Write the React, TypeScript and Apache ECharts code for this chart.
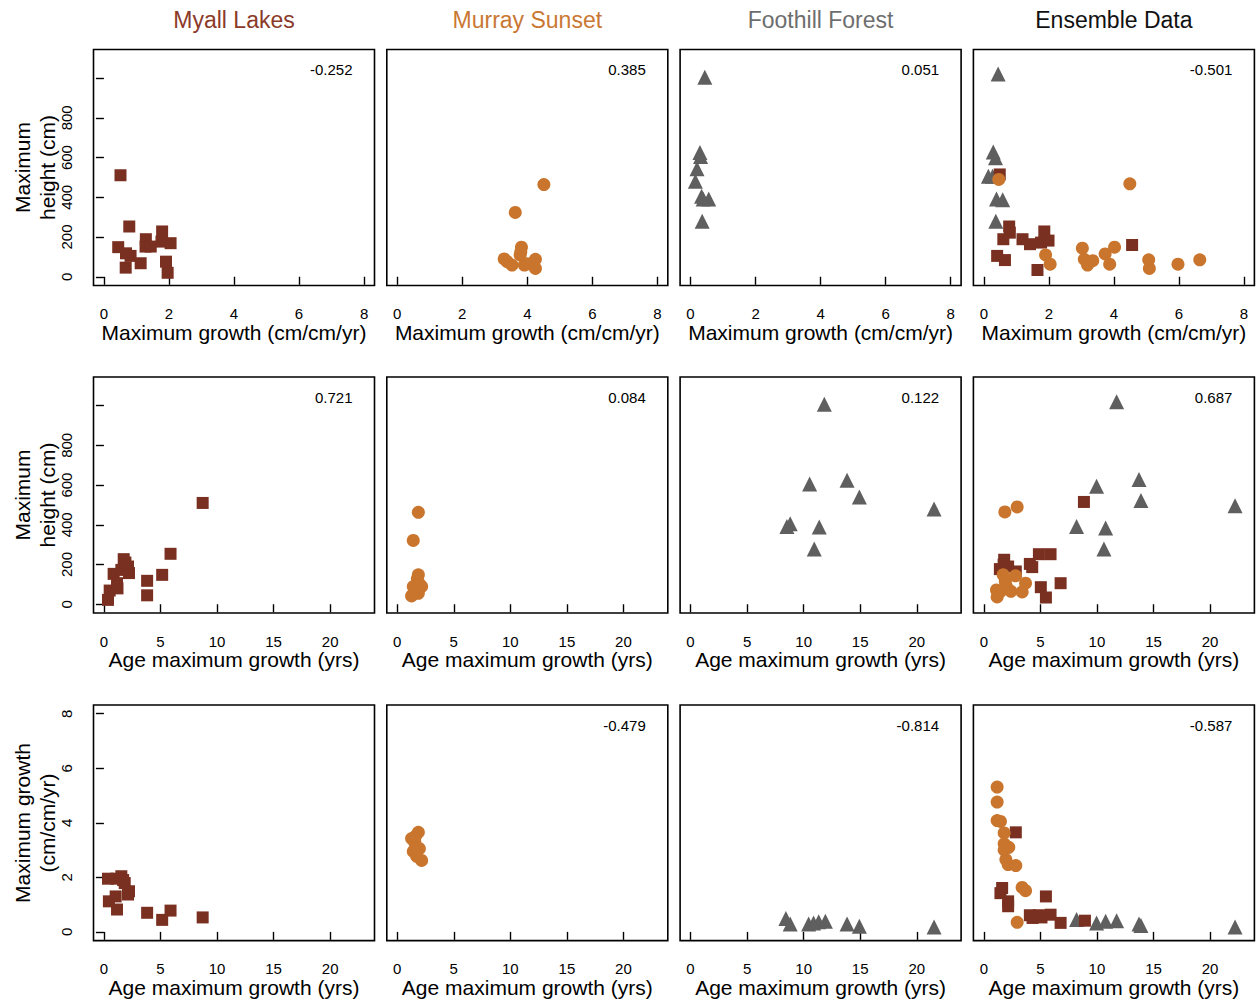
import React, { useEffect, useRef } from "react";
import * as echarts from "echarts";

// ---------- data ----------
const siteNames = ["Myall Lakes", "Murray Sunset", "Foothill Forest", "Ensemble Data"];

// Row 1: x = maximum growth (cm/cm/yr), y = maximum height (cm)
const myallGrowthHeight = [[0.51, 511], [0.78, 253], [0.44, 149], [0.68, 118], [0.82, 105], [0.67, 46], [1.13, 68], [1.29, 189], [1.28, 152], [1.44, 152], [1.79, 228], [1.77, 177], [2.05, 169], [1.91, 76], [1.96, 20]];
const murrayGrowthHeight = [[4.51, 464], [3.63, 324], [3.82, 149], [3.78, 110], [3.29, 90], [3.38, 76], [3.53, 59], [3.91, 59], [4.0, 65], [4.25, 88], [4.25, 42], [3.8, 125]];
const foothillGrowthHeight = [[0.44, 1004], [0.29, 625], [0.31, 605], [0.2, 544], [0.15, 481], [0.34, 405], [0.39, 392], [0.56, 392], [0.36, 279]];
const ensMyallGrowthHeight = [[0.49, 515], [0.78, 253], [0.8, 222], [0.6, 189], [1.19, 189], [1.42, 164], [1.76, 172], [1.86, 228], [1.99, 182], [0.41, 105], [0.65, 84], [1.65, 34], [4.56, 160]];
const ensMurrayGrowthHeight = [[0.46, 490], [4.49, 468], [1.9, 110], [2.04, 63], [3.03, 144], [3.09, 88], [3.19, 59], [3.35, 81], [3.73, 115], [3.87, 63], [4.02, 149], [5.07, 85], [5.09, 42], [5.97, 63], [6.64, 85]];
const ensFoothillGrowthHeight = [[0.44, 1021], [0.29, 628], [0.36, 599], [0.14, 506], [0.27, 506], [0.39, 392], [0.58, 388], [0.37, 279]];

// Row 2: x = age at maximum growth (yrs), y = maximum height (cm)
const myallAgeHeight = [[8.73, 510], [5.89, 254], [5.15, 148], [3.82, 118], [3.82, 45], [0.36, 22], [0.51, 69], [0.86, 153], [1.16, 106], [1.2, 80], [1.75, 227], [1.54, 173], [2.13, 190], [2.22, 157], [1.9, 210]];
const murrayAgeHeight = [[1.87, 463], [1.42, 321], [1.87, 148], [1.78, 128], [1.42, 89], [2.16, 89], [1.27, 42], [1.87, 55], [1.6, 70], [2.0, 100]];
const foothillAgeHeight = [[11.83, 1007], [10.53, 606], [13.84, 624], [14.93, 540], [21.53, 480], [8.52, 392], [8.81, 405], [11.38, 389], [10.94, 278]];
const ensMyallAgeHeight = [[8.85, 515], [4.87, 252], [5.9, 252], [4.07, 203], [4.28, 187], [6.79, 106], [5.04, 86], [5.49, 34], [1.8, 224], [1.42, 177], [2.15, 190], [2.83, 165], [1.75, 200]];
const ensMurrayAgeHeight = [[1.86, 465], [2.95, 490], [2.8, 143], [3.69, 106], [3.39, 62], [1.71, 148], [1.12, 72], [1.18, 37], [2.0, 90], [2.4, 65], [1.5, 65], [1.9, 115]];
const ensFoothillAgeHeight = [[11.74, 1020], [9.97, 594], [13.72, 628], [13.89, 522], [22.21, 496], [8.2, 392], [10.77, 384], [10.62, 278]];

// Row 3: x = age at maximum growth (yrs), y = maximum growth (cm/cm/yr)
const myallAgeGrowth = [[8.73, 0.53], [5.89, 0.78], [5.15, 0.44], [3.82, 0.7], [0.36, 1.95], [0.44, 1.12], [1.04, 1.3], [1.16, 0.82], [1.1, 1.95], [1.54, 2.04], [1.84, 1.79], [2.13, 1.37], [2.22, 1.49], [1.7, 1.9]];
const murrayAgeGrowth = [[1.87, 3.65], [1.27, 3.42], [1.57, 3.27], [1.96, 3.05], [1.42, 2.95], [1.72, 2.77], [2.16, 2.62], [1.6, 3.5]];
const foothillAgeGrowth = [[8.43, 0.49], [8.81, 0.29], [10.44, 0.29], [10.88, 0.33], [11.33, 0.37], [11.92, 0.39], [13.84, 0.29], [14.93, 0.21], [21.53, 0.18]];
const ensMyallAgeGrowth = [[2.83, 3.65], [1.62, 1.61], [1.47, 1.42], [2.15, 1.12], [2.15, 0.94], [5.49, 1.3], [4.07, 0.61], [4.31, 0.51], [4.87, 0.61], [5.1, 0.53], [5.9, 0.63], [6.79, 0.33], [8.94, 0.41]];
const ensMurrayAgeGrowth = [[1.18, 5.31], [1.18, 4.76], [1.18, 4.08], [1.47, 4.05], [1.8, 3.63], [1.8, 3.23], [2.21, 3.1], [1.8, 3.0], [1.95, 2.65], [2.15, 2.47], [2.83, 2.43], [3.39, 1.63], [3.69, 1.51], [2.95, 0.35]];
const ensFoothillAgeGrowth = [[8.2, 0.45], [9.97, 0.33], [10.77, 0.39], [11.74, 0.41], [13.72, 0.29], [13.89, 0.23], [22.21, 0.18]];

const correlations = [
  ["-0.252", "0.385", "0.051", "-0.501"],
  ["0.721", "0.084", "0.122", "0.687"],
  ["", "-0.479", "-0.814", "-0.587"],
];

const growthTicks = [0, 2, 4, 6, 8];
const ageTicks = [0, 5, 10, 15, 20];
const heightTicks = [0, 200, 400, 600, 800, 1000];
const heightLabels = [0, 200, 400, 600, 800];

// ---------- styling ----------
const FONT = '"Liberation Sans", Arial, Helvetica, sans-serif';
const siteStyle = [
  { symbol: "rect", size: 12, color: "#7A3021", title: "#8B3A2A" },
  { symbol: "circle", size: 13, color: "#C9752D", title: "#C97833" },
  { symbol: "triangle", size: 15, color: "#5F5F5F", title: "#6E6E6E" },
];
const ensembleTitleColor = "#111111";

const colLefts = [93.5, 386.8, 680.1, 973.4];
const rowTops = [49.5, 377, 705];
const W = 281;
const H = 236;

const rowAxes = [
  { xMin: -0.32, xMax: 8.32, xTicks: growthTicks, yMin: -44, yMax: 1144, yTicks: heightTicks, yLabels: heightLabels, xTitle: "Maximum growth (cm/cm/yr)", yTitle: "Maximum\nheight (cm)" },
  { xMin: -0.92, xMax: 23.92, xTicks: ageTicks, yMin: -44, yMax: 1144, yTicks: heightTicks, yLabels: heightLabels, xTitle: "Age maximum growth (yrs)", yTitle: "Maximum\nheight (cm)" },
  { xMin: -0.92, xMax: 23.92, xTicks: ageTicks, yMin: -0.32, yMax: 8.32, yTicks: growthTicks, yLabels: growthTicks, xTitle: "Age maximum growth (yrs)", yTitle: "Maximum growth\n(cm/cm/yr)" },
];

// panel contents: [row][col] -> list of [siteIndex, data]
const panelData: [number, number[][]][][][] = [
  [
    [[0, myallGrowthHeight]],
    [[1, murrayGrowthHeight]],
    [[2, foothillGrowthHeight]],
    [[2, ensFoothillGrowthHeight], [0, ensMyallGrowthHeight], [1, ensMurrayGrowthHeight]],
  ],
  [
    [[0, myallAgeHeight]],
    [[1, murrayAgeHeight]],
    [[2, foothillAgeHeight]],
    [[2, ensFoothillAgeHeight], [0, ensMyallAgeHeight], [1, ensMurrayAgeHeight]],
  ],
  [
    [[0, myallAgeGrowth]],
    [[1, murrayAgeGrowth]],
    [[2, foothillAgeGrowth]],
    [[2, ensFoothillAgeGrowth], [0, ensMyallAgeGrowth], [1, ensMurrayAgeGrowth]],
  ],
];

function buildOption() {
  const grid: any[] = [];
  const xAxis: any[] = [];
  const yAxis: any[] = [];
  const series: any[] = [];
  const graphic: any[] = [];

  for (let r = 0; r < 3; r++) {
    const ax = rowAxes[r];
    for (let c = 0; c < 4; c++) {
      const idx = r * 4 + c;
      grid.push({
        left: colLefts[c],
        top: rowTops[r],
        width: W,
        height: H,
        show: true,
        borderColor: "#000",
        borderWidth: 1.6,
        backgroundColor: "#fff",
        containLabel: false,
      });
      xAxis.push({
        type: "value",
        gridIndex: idx,
        min: ax.xMin,
        max: ax.xMax,
        splitLine: { show: false },
        axisLine: { show: false },
        axisTick: { show: true, inside: false, length: 8, customValues: ax.xTicks, lineStyle: { color: "#000", width: 1.4 } },
        axisLabel: { show: true, customValues: ax.xTicks, margin: 28, verticalAlign: "middle", color: "#000", fontSize: 15, fontFamily: FONT },
        name: ax.xTitle,
        nameLocation: "middle",
        nameGap: 42,
        nameTextStyle: { color: "#000", fontSize: 21, fontFamily: FONT, verticalAlign: "middle" },
      });
      const showY = c === 0;
      yAxis.push({
        type: "value",
        gridIndex: idx,
        min: ax.yMin,
        max: ax.yMax,
        show: showY,
        splitLine: { show: false },
        axisLine: { show: false },
        axisTick: { show: showY, inside: false, length: 8, customValues: ax.yTicks, lineStyle: { color: "#000", width: 1.4 } },
        axisLabel: { show: showY, customValues: ax.yLabels, rotate: 90, margin: 27, align: "center", verticalAlign: "middle", color: "#000", fontSize: 15, fontFamily: FONT },
      });
      for (const [site, data] of panelData[r][c]) {
        const st = siteStyle[site];
        series.push({
          type: "scatter",
          xAxisIndex: idx,
          yAxisIndex: idx,
          data,
          symbol: st.symbol,
          symbolSize: st.size,
          itemStyle: { color: st.color, opacity: 1 },
          silent: true,
        });
      }
      const corr = correlations[r][c];
      if (corr) {
        graphic.push({
          type: "text",
          x: colLefts[c] + W - 22,
          y: rowTops[r] + 20,
          silent: true,
          style: { text: corr, fill: "#000", fontSize: 15, fontFamily: FONT, align: "right", verticalAlign: "middle" },
        });
      }
    }
    graphic.push({
      type: "text",
      x: 34.5,
      y: rowTops[r] + H / 2,
      rotation: Math.PI / 2,
      silent: true,
      style: { text: ax.yTitle, fill: "#000", fontSize: 21, lineHeight: 25, fontFamily: FONT, align: "center", verticalAlign: "middle" },
    });
  }

  for (let c = 0; c < 4; c++) {
    graphic.push({
      type: "text",
      x: colLefts[c] + W / 2,
      y: 20,
      silent: true,
      style: { text: siteNames[c], fill: c < 3 ? siteStyle[c].title : ensembleTitleColor, fontSize: 23, fontFamily: FONT, align: "center", verticalAlign: "middle" },
    });
  }

  return {
    animation: false,
    backgroundColor: "#fff",
    grid,
    xAxis,
    yAxis,
    series,
    graphic,
  };
}

export default function App() {
  const ref = useRef<HTMLDivElement>(null);
  useEffect(() => {
    if (!ref.current) return;
    const chart = echarts.init(ref.current, null, { renderer: "svg" });
    chart.setOption(buildOption() as any);
    return () => chart.dispose();
  }, []);
  return (
    <div
      ref={ref}
      style={{ position: "absolute", left: 0, top: 0, width: 1259, height: 999, background: "#fff" }}
    />
  );
}
